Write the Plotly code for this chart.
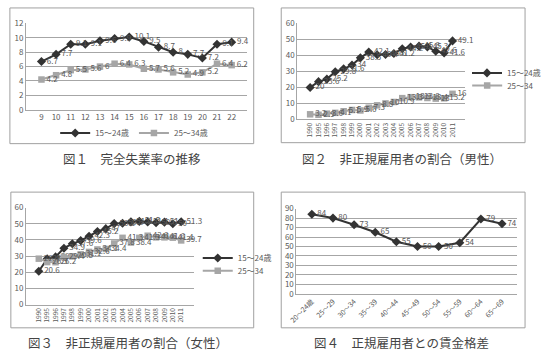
import plotly.graph_objects as go

W, H = 546, 359
FONT = "Noto Sans CJK JP"
DARK = "#333333"
GRAY = "#a6a6a6"
TXT = "#595959"
GRID = "#a6a6a6"

# ---- Fig.1 data: unemployment rate ----
years1 = ["9", "10", "11", "12", "13", "14", "15", "16", "17", "18", "19", "20", "21", "22"]
unemp_15_24 = [6.7, 7.7, 9.1, 9.1, 9.6, 9.9, 10.1, 9.5, 8.7, 8.0, 7.7, 7.2, 9.1, 9.4]
unemp_25_34 = [4.2, 4.8, 5.5, 5.6, 6.0, 6.4, 6.3, 5.7, 5.6, 5.2, 4.9, 5.2, 6.4, 6.2]

# ---- Fig.2 / Fig.3 data: non-regular share ----
years2 = ["1990", "1995", "1996", "1997", "1998", "1999", "2000", "2001", "2002",
          "2003", "2004", "2005", "2006", "2007", "2008", "2009", "2010", "2011"]
men_15_24 = [20, 23.6, 25.2, 29.8, 31.6, 34, 38.5, 42.1, 40.4, 40.6, 41.2, 44.2,
             45.3, 45.8, 45.3, 42.6, 41.6, 49.1]
men_25_34 = [3.2, 2.9, 3.6, 4.1, 5.1, 5.9, 5.6, 7.3, 8.8, 10, 10.9, 13.3,
             13.9, 13.8, 13.4, 13, 13.2, 16]
women_15_24 = [20.6, 28.3, 29.5, 34.9, 37.6, 39.6, 42.3, 45.2, 47.0, 50.1, 50.3, 51.2,
               51.5, 51.1, 50.6, 51.0, 50.0, 51.3]
women_25_34 = [28.4, 26.3, 26.2, 29.4, 29.8, 31.1, 32.6, 34.1, 34.4, 37.8, 41.3, 38.4,
               41.3, 42.6, 41.6, 41.6, 41.4, 39.7]

# ---- Fig.4 data: wage gap ----
ages = ["20～24歳", "25～29", "30～34", "35～39", "40～44", "45～49",
        "50～54", "55～59", "60～64", "65～69"]
wage_gap = [84, 80, 73, 65, 55, 50, 50, 54, 79, 74]

captions = ["図１　完全失業率の推移", "図２　非正規雇用者の割合（男性）",
            "図３　非正規雇用者の割合（女性）", "図４　正規雇用者との賃金格差"]

fig = go.Figure()


def px_x(v):
    return v / W


def px_y(v):
    return 1 - v / H


def add_series(x, y, name, ax, dark, legend, showlegend=True):
    fig.add_trace(go.Scatter(
        x=x, y=y, name=name, xaxis="x" + ax, yaxis="y" + ax,
        mode="lines+markers+text",
        text=[("%g" % v) for v in y], textposition="middle right",
        textfont=dict(size=8, color=TXT, family=FONT),
        line=dict(color=DARK if dark else GRAY, width=2),
        marker=dict(symbol="diamond" if dark else "square",
                    size=7 if dark else 6.5,
                    color=DARK if dark else GRAY),
        cliponaxis=False, legend=legend, showlegend=showlegend))


add_series(years1, unemp_15_24, "15～24歳", "", True, "legend")
add_series(years1, unemp_25_34, "25～34歳", "", False, "legend")
add_series(years2, men_15_24, "15～24歳", "2", True, "legend2")
add_series(years2, men_25_34, "25～34", "2", False, "legend3")
add_series(years2, women_15_24, "15～24歳", "3", True, "legend4")
add_series(years2, women_25_34, "25～34", "3", False, "legend5")
add_series(ages, wage_gap, "", "4", True, "legend", showlegend=False)


def xa(l, r, angle, size):
    return dict(domain=[px_x(l), px_x(r)], type="category", showgrid=False,
                showline=True, linecolor=GRID, linewidth=1,
                ticks="", tickangle=angle,
                tickfont=dict(size=size, color=TXT, family=FONT))


def ya(b, t, rng, dt, anchor):
    return dict(domain=[px_y(b), px_y(t)], range=rng, dtick=dt, showgrid=True,
                gridcolor=GRID, gridwidth=1, showline=True, linecolor=GRID,
                zeroline=False, ticks="", anchor=anchor,
                tickfont=dict(size=8, color=TXT, family=FONT))


def leg(x, y, orient="v", xanchor="left"):
    return dict(x=px_x(x), y=px_y(y), xanchor=xanchor, yanchor="middle",
                orientation=orient, font=dict(size=8, color=TXT),
                bgcolor="rgba(0,0,0,0)", itemwidth=30)


layout = dict(
    width=W, height=H, margin=dict(l=0, r=0, t=0, b=0),
    paper_bgcolor="white", plot_bgcolor="white",
    font=dict(family=FONT, color=TXT),
    xaxis=dict(xa(19, 252, 0, 8), anchor="y"),
    yaxis=ya(107, 18, [0, 12], 2, "x"),
    xaxis2=dict(xa(305, 482, -90, 6.5), anchor="y2"),
    yaxis2=ya(117, 18, [0, 60], 10, "x2"),
    xaxis3=dict(xa(19, 196, -90, 6.5), anchor="y3"),
    yaxis3=ya(308, 208, [0, 60], 10, "x3"),
    xaxis4=dict(xa(304, 537, -45, 7), anchor="y4"),
    yaxis4=ya(297, 209, [0, 90], 10, "x4"),
    legend=leg(133, 131, "h", "center"),
    legend2=leg(484, 69),
    legend3=leg(484, 82),
    legend4=leg(200, 260),
    legend5=leg(200, 273),
)
fig.update_layout(**layout)

frames = [(2, 2, 259, 142), (288, 2, 545, 141), (3, 192, 259, 332), (288, 192, 545, 332)]
for (x0, y0, x1, y1) in frames:
    fig.add_shape(type="rect", xref="paper", yref="paper",
                  x0=px_x(x0), x1=px_x(x1), y0=px_y(y1), y1=px_y(y0),
                  line=dict(color="#a0a0a0", width=1))

cap_pos = [(131, 157), (415, 157), (126, 347), (415, 347)]
for cap, (cx, cy) in zip(captions, cap_pos):
    fig.add_annotation(text=cap, xref="paper", yref="paper", x=px_x(cx), y=px_y(cy),
                       xanchor="center", yanchor="middle", showarrow=False,
                       font=dict(size=12.5, color="#444444", family=FONT))

fig.write_html("out.html")
